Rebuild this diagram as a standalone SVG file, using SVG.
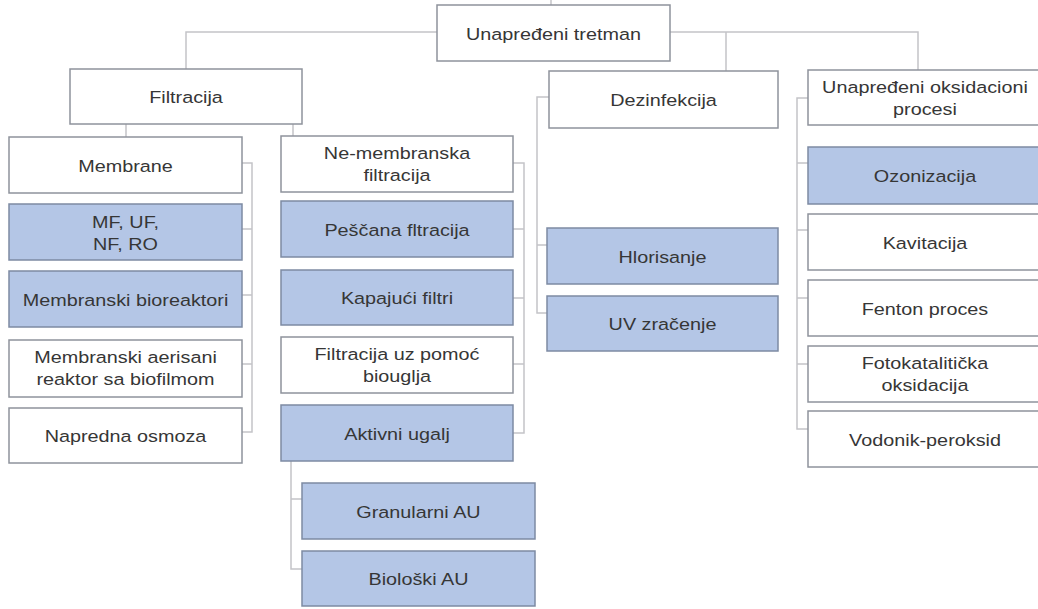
<svg xmlns="http://www.w3.org/2000/svg" width="1038" height="609" viewBox="0 0 1038 609">
<style>
.b{fill:#ffffff;stroke:#8e939c;stroke-width:1.5}
.f{fill:#b4c6e6;stroke:#7d8aa3;stroke-width:1.5}
text{font-family:"Liberation Sans",Arial,sans-serif;font-size:16.5px;fill:#363636;text-anchor:middle;dominant-baseline:central}
.c{fill:none;stroke:#c4c4c8;stroke-width:1.5}
</style>
<rect width="1038" height="609" fill="#ffffff"/>
<g id="connectors" class="c">
<path d="M551,0V5"/>
<path d="M186,69V32H437M670,32H918V70M726,32V71"/>
<path d="M126,124V137M293,124V136"/>
<path d="M242,163H252V432H242M242,229H252M242,295H252M242,364H252"/>
<path d="M513,163H524V433H513M513,229H524M513,298H524M513,364H524"/>
<path d="M549,97H537V313H547M537,245H547"/>
<path d="M808,98H797V429H808M797,163H808M797,230H808M797,298H808M797,364H808"/>
<path d="M291,461V569H302M291,499H302"/>
</g>
<g id="n-root"><rect class="b" x="437" y="5" width="233" height="56"/><text transform="translate(553.5 34.5) scale(1.2 1)">Unapređeni tretman</text></g>
<g id="n-filtracija"><rect class="b" x="70" y="69" width="232" height="55"/><text transform="translate(186 98) scale(1.2 1)">Filtracija</text></g>
<g id="n-dezinfekcija"><rect class="b" x="549" y="71" width="229" height="57"/><text transform="translate(663.5 101) scale(1.2 1)">Dezinfekcija</text></g>
<g id="n-aop"><rect class="b" x="808" y="70" width="232" height="55"/><text transform="translate(925 98.5) scale(1.2 1)"><tspan x="0" y="-11">Unapređeni oksidacioni</tspan><tspan x="0" y="11">procesi</tspan></text></g>
<g id="n-membrane"><rect class="b" x="9" y="137" width="233" height="56"/><text transform="translate(125.5 166.5) scale(1.2 1)">Membrane</text></g>
<g id="n-mf"><rect class="f" x="9" y="204" width="233" height="56"/><text transform="translate(125.5 233) scale(1.2 1)"><tspan x="0" y="-10">MF, UF,</tspan><tspan x="0" y="12">NF, RO</tspan></text></g>
<g id="n-mbr"><rect class="f" x="9" y="271" width="233" height="56"/><text transform="translate(125.5 300.5) scale(1.2 1)">Membranski bioreaktori</text></g>
<g id="n-mabr"><rect class="b" x="9" y="340" width="233" height="57"/><text transform="translate(125.5 369) scale(1.2 1)"><tspan x="0" y="-11">Membranski aerisani</tspan><tspan x="0" y="11">reaktor sa biofilmom</tspan></text></g>
<g id="n-fo"><rect class="b" x="9" y="408" width="233" height="55"/><text transform="translate(125.5 437) scale(1.2 1)">Napredna osmoza</text></g>
<g id="n-nemem"><rect class="b" x="281" y="136" width="232" height="56"/><text transform="translate(397 164.5) scale(1.2 1)"><tspan x="0" y="-11">Ne-membranska</tspan><tspan x="0" y="11">filtracija</tspan></text></g>
<g id="n-pescana"><rect class="f" x="281" y="201" width="232" height="56"/><text transform="translate(397 230.5) scale(1.2 1)">Peščana fltracija</text></g>
<g id="n-kapajuci"><rect class="f" x="281" y="270" width="232" height="55"/><text transform="translate(397 299) scale(1.2 1)">Kapajući filtri</text></g>
<g id="n-biougalj"><rect class="b" x="281" y="337" width="232" height="56"/><text transform="translate(397 365.5) scale(1.2 1)"><tspan x="0" y="-11">Filtracija uz pomoć</tspan><tspan x="0" y="11">biouglja</tspan></text></g>
<g id="n-aktivni"><rect class="f" x="281" y="405" width="232" height="56"/><text transform="translate(397 434.5) scale(1.2 1)">Aktivni ugalj</text></g>
<g id="n-gau"><rect class="f" x="302" y="483" width="233" height="56"/><text transform="translate(418.5 512.5) scale(1.2 1)">Granularni AU</text></g>
<g id="n-bau"><rect class="f" x="302" y="551" width="233" height="55"/><text transform="translate(418.5 580) scale(1.2 1)">Biološki AU</text></g>
<g id="n-hlor"><rect class="f" x="547" y="228" width="231" height="56"/><text transform="translate(662.5 257.5) scale(1.2 1)">Hlorisanje</text></g>
<g id="n-uv"><rect class="f" x="547" y="296" width="231" height="55"/><text transform="translate(662.5 325) scale(1.2 1)">UV zračenje</text></g>
<g id="n-ozon"><rect class="f" x="808" y="147" width="232" height="57"/><text transform="translate(925 177) scale(1.2 1)">Ozonizacija</text></g>
<g id="n-kav"><rect class="b" x="808" y="214" width="232" height="56"/><text transform="translate(925 243.5) scale(1.2 1)">Kavitacija</text></g>
<g id="n-fenton"><rect class="b" x="808" y="280" width="232" height="56"/><text transform="translate(925 309.5) scale(1.2 1)">Fenton proces</text></g>
<g id="n-foto"><rect class="b" x="808" y="346" width="232" height="56"/><text transform="translate(925 374.5) scale(1.2 1)"><tspan x="0" y="-11">Fotokatalitička</tspan><tspan x="0" y="11">oksidacija</tspan></text></g>
<g id="n-h2o2"><rect class="b" x="808" y="411" width="232" height="56"/><text transform="translate(925 440.5) scale(1.2 1)">Vodonik-peroksid</text></g>
</svg>
